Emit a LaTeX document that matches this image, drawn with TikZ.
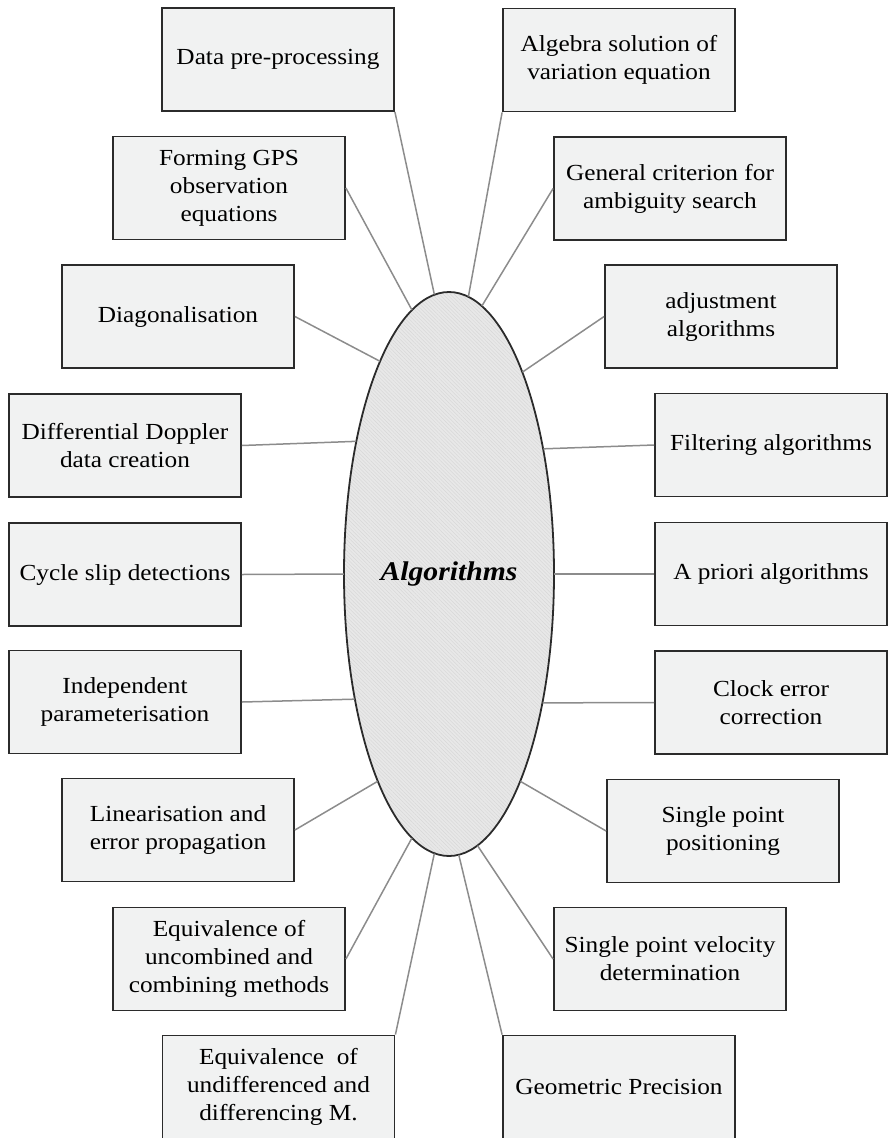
\documentclass[tikz,border=0pt]{standalone}
\usepackage{fontspec}
\setmainfont{Liberation Serif}[FakeStretch=1.1]
\usetikzlibrary{shapes.geometric,patterns.meta}
\definecolor{boxfill}{HTML}{F1F2F2}
\definecolor{boxline}{HTML}{2B2B2B}
\definecolor{conn}{HTML}{8C8C8C}
\definecolor{ellfill}{HTML}{E8E8E8}
\definecolor{hatch}{HTML}{D8D8D8}
\tikzset{
  topic/.style={draw=boxline, line width=1.8pt, fill=boxfill, minimum width=232pt, minimum height=103pt,
    align=center, inner sep=2pt, font=\fontsize{23}{28}\selectfont},
  link/.style={draw=conn, line width=1.5pt},
  hub/.style={ellipse, draw=boxline, line width=1.8pt, minimum width=210pt, minimum height=564pt, inner sep=0pt,
    preaction={fill=ellfill}, pattern={Lines[angle=-45,distance=2.6pt,line width=0.5pt]}, pattern color=hatch,
    font=\fontsize{27}{30}\selectfont\bfseries\itshape}
}
\begin{document}
\begin{tikzpicture}[x=1pt,y=-1pt]
\useasboundingbox (0,0) rectangle (888,1138);
\node[hub] (ell) at (449,574) {Algorithms};
\node[topic] (pre) at (278,59.5) {Data pre-processing};
\node[topic] (alg) at (619,60) {Algebra solution of\\variation equation};
\node[topic] (form) at (229,188) {Forming GPS\\observation\\equations};
\node[topic] (gen) at (670,188.5) {General criterion for\\ambiguity search};
\node[topic] (diag) at (178,316.5) {Diagonalisation};
\node[topic] (adj) at (721,316.5) {adjustment\\algorithms};
\node[topic] (dop) at (125,445.5) {Differential Doppler\\data creation};
\node[topic] (fil) at (771,445) {Filtering algorithms};
\node[topic] (cyc) at (125,574.5) {Cycle slip detections};
\node[topic] (apr) at (771,574) {A priori algorithms};
\node[topic] (ind) at (125,702) {Independent\\parameterisation};
\node[topic] (clk) at (771,702.5) {Clock error\\correction};
\node[topic] (lin) at (178,830) {Linearisation and\\error propagation};
\node[topic] (spp) at (723,831) {Single point\\positioning};
\node[topic] (equ) at (229,959) {Equivalence of\\uncombined and\\combining methods};
\node[topic] (spv) at (670,959) {Single point velocity\\determination};
\node[topic] (eqd) at (278.5,1087) {Equivalence\ \ of\\undifferenced and\\differencing M.};
\node[topic] (geo) at (619,1087) {Geometric Precision};
\draw[link] (pre.south east) -- (ell.93.1);
\draw[link] (alg.south west) -- (ell.86.7);
\draw[link] (form.east) -- (ell.98.4);
\draw[link] (gen.west) -- (ell.83.1);
\draw[link] (diag.east) -- (ell.108.8);
\draw[link] (adj.west) -- (ell.70.9);
\draw[link] (dop.east) -- (ell.125.8);
\draw[link] (fil.west) -- (ell.53.5);
\draw[link] (cyc.east) -- (ell.180);
\draw[link] (apr.west) -- (ell.0);
\draw[link] (ind.east) -- (ell.233.3);
\draw[link] (clk.west) -- (ell.306.1);
\draw[link] (lin.east) -- (ell.251.2);
\draw[link] (spp.west) -- (ell.289.8);
\draw[link] (equ.east) -- (ell.262.3);
\draw[link] (spv.west) -- (ell.276.9);
\draw[link] (eqd.north east) -- (ell.267.1);
\draw[link] (geo.north west) -- (ell.272.9);
\end{tikzpicture}
\end{document}
